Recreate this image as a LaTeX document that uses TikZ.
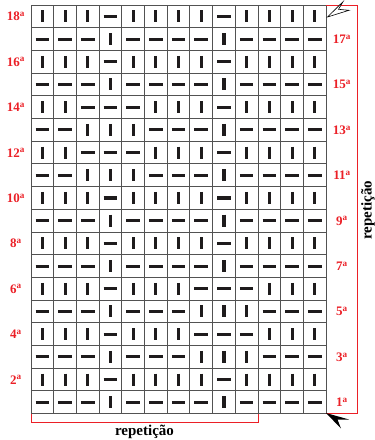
\documentclass[tikz,border=0pt]{standalone}
\usepackage{fontspec}
\setmainfont{Liberation Serif}
\definecolor{chartred}{RGB}{235,32,39}
\definecolor{barcol}{RGB}{30,27,28}
\begin{document}
\begin{tikzpicture}[x=1pt,y=-1pt,
  gridline/.style={draw=black!68,line width=0.9pt},
  bar/.style={draw=barcol,line width=3.1pt},
  rowlabel/.style={text=chartred,font=\bfseries\fontsize{13}{13}\selectfont,inner sep=0pt,anchor=base},
  redline/.style={draw=chartred,line width=1pt},
  replabel/.style={font=\bfseries\fontsize{15}{15}\selectfont,inner sep=0pt,anchor=base}]
\useasboundingbox (0,0) rectangle (375,440);
% grid
\foreach \k in {0,...,13}
  \draw[gridline] ({31+\k*22.7},5) -- ({31+\k*22.7},413.6);
\foreach \k in {0,...,18}
  \draw[gridline] (31,{5+\k*22.7}) -- (326.1,{5+\k*22.7});
% stitches (1 = vertical, 0 = horizontal), top row first
\foreach \row [count=\i] in {
 {1,1,1,0,1,1,1,1,0,1,1,1,1},
 {0,0,0,1,0,0,0,0,1,0,0,0,0},
 {1,1,1,0,1,1,1,1,0,1,1,1,1},
 {0,0,0,1,0,0,0,0,1,0,0,0,0},
 {1,1,0,0,0,1,1,1,0,1,1,1,1},
 {0,0,1,1,1,0,0,0,1,0,0,0,0},
 {1,1,0,0,0,1,1,1,0,1,1,1,1},
 {0,0,1,1,1,0,0,0,1,0,0,0,0},
 {1,1,1,0,1,1,1,1,0,1,1,1,1},
 {0,0,0,1,0,0,0,0,1,0,0,0,0},
 {1,1,1,0,1,1,1,1,0,1,1,1,1},
 {0,0,0,1,0,0,0,0,1,0,0,0,0},
 {1,1,1,0,1,1,1,0,0,0,1,1,1},
 {0,0,0,1,0,0,0,1,1,1,0,0,0},
 {1,1,1,0,1,1,1,0,0,0,1,1,1},
 {0,0,0,1,0,0,0,1,1,1,0,0,0},
 {1,1,1,0,1,1,1,1,0,1,1,1,1},
 {0,0,0,1,0,0,0,0,1,0,0,0,0}}{
  \foreach \v [count=\j] in \row {
    \pgfmathsetmacro\cx{31+(\j-0.5)*22.7}
    \pgfmathsetmacro\cy{5+(\i-0.5)*22.7}
    \ifnum\v=1
      \draw[bar] (\cx,\cy-6) -- (\cx,\cy+6);
    \else
      \draw[bar] (\cx-6.8,\cy) -- (\cx+6.8,\cy);
    \fi
  }
}
% row labels
\foreach \n in {18,16,...,2}{
  \pgfmathsetmacro\ly{5+(18.5-\n)*22.7+4.5}
  \node[rowlabel] (l\n) at (16,\ly) {\n\textsuperscript{a}};
}
\foreach \n in {17,15,...,1}{
  \pgfmathsetmacro\ly{5+(18.5-\n)*22.7+4.5}
  \node[rowlabel] (r\n) at (342,\ly) {\n\textsuperscript{a}};
}
% repeat brackets
\draw[redline] (326.1,5.5) -- (357,5.5) -- (357,413.6) -- (326.1,413.6);
\draw[redline] (31,413.6) -- (31,422) -- (258,422) -- (258,413.6);
\node[replabel] (repb) at (144.5,435) {repetição};
\node[replabel,rotate=90] (repr) at (371.5,210) {repetição};
% arrows
\filldraw[fill=white,draw=black,line width=0.6pt] (327.5,17) -- (343,1.7) -- (338.5,9.3) -- (349,10.3) -- cycle;
\fill[black] (326,413) -- (349,419.5) -- (337.5,419.5) -- (341,428.5) -- cycle;
\end{tikzpicture}
\end{document}
